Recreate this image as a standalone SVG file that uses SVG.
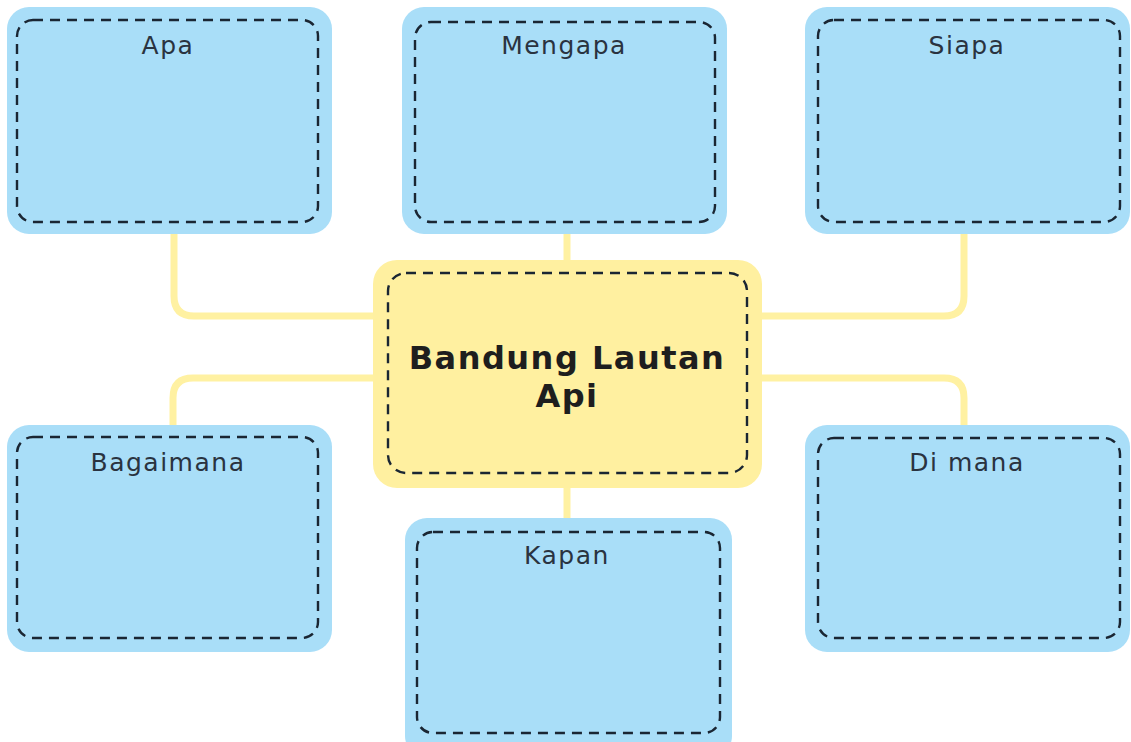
<svg xmlns="http://www.w3.org/2000/svg" width="1131" height="742" viewBox="0 0 1131 742">
  <style>
    .outer { fill: #A9DEF8; }
    .center { fill: #FFF0A0; }
    .dash { fill: none; stroke: #1A2633; stroke-width: 2.4; stroke-dasharray: 10 7; }
    .conn { fill: none; stroke: #FFF1A2; stroke-width: 7; }
    .lbl { font-family: "DejaVu Sans", sans-serif; font-size: 25px; fill: #2A3340; text-anchor: middle; letter-spacing: 1.5px; }
    .title { font-family: "DejaVu Sans", sans-serif; font-size: 32px; font-weight: bold; fill: #1E1E1E; text-anchor: middle; letter-spacing: 1.5px; }
  </style>
  <rect width="1131" height="742" fill="#FFFFFF"/>
  <g id="connectors">
    <path class="conn" d="M174,234 V296 Q174,316 194,316 H380"/>
    <path class="conn" d="M567,232 V263"/>
    <path class="conn" d="M964,234 V296 Q964,316 944,316 H756"/>
    <path class="conn" d="M173,426 V398 Q173,378 193,378 H380"/>
    <path class="conn" d="M964,426 V398 Q964,378 944,378 H756"/>
    <path class="conn" d="M567,486 V520"/>
  </g>
  <g id="center">
    <rect class="center" x="373" y="260" width="389" height="228" rx="24"/>
    <rect class="dash" x="388" y="273" width="359" height="200" rx="18"/>
    <text class="title" x="567" y="369">Bandung Lautan</text>
    <text class="title" x="567" y="407">Api</text>
  </g>
  <g id="apa">
    <rect class="outer" x="7" y="7" width="325" height="227" rx="22"/>
    <rect class="dash" x="17" y="20" width="301" height="202" rx="16"/>
    <text class="lbl" x="168" y="54">Apa</text>
  </g>
  <g id="mengapa">
    <rect class="outer" x="402" y="7" width="325" height="227" rx="22"/>
    <rect class="dash" x="415" y="22" width="300" height="200" rx="16"/>
    <text class="lbl" x="564" y="54">Mengapa</text>
  </g>
  <g id="siapa">
    <rect class="outer" x="805" y="7" width="325" height="227" rx="22"/>
    <rect class="dash" x="818" y="20" width="302" height="202" rx="16"/>
    <text class="lbl" x="967" y="54">Siapa</text>
  </g>
  <g id="bagaimana">
    <rect class="outer" x="7" y="425" width="325" height="227" rx="22"/>
    <rect class="dash" x="17" y="437" width="301" height="201" rx="16"/>
    <text class="lbl" x="168" y="471">Bagaimana</text>
  </g>
  <g id="dimana">
    <rect class="outer" x="805" y="425" width="325" height="227" rx="22"/>
    <rect class="dash" x="818" y="438" width="302" height="200" rx="16"/>
    <text class="lbl" x="967" y="471">Di mana</text>
  </g>
  <g id="kapan">
    <rect class="outer" x="405" y="518" width="327" height="240" rx="22"/>
    <rect class="dash" x="417" y="532" width="303" height="201" rx="16"/>
    <text class="lbl" x="567" y="564">Kapan</text>
  </g>
</svg>
